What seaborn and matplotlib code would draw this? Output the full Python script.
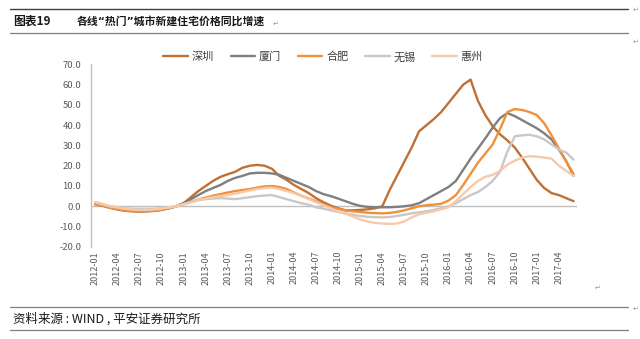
import numpy as np
import pandas as pd
import matplotlib
matplotlib.use("Agg")
import matplotlib.pyplot as plt
import seaborn as sns
from matplotlib.lines import Line2D

# ---------------- data ----------------
months = pd.period_range("2012-01", "2017-06", freq="M").strftime("%Y-%m").tolist()
tick_labels = months[::3][:22]

shenzhen = [1.0, 0.2, -0.8, -1.6, -2.2, -2.5, -2.6, -2.5, -2.3, -1.8, -1.0, 0.0,
            1.5, 4.5, 7.5, 10.0, 12.5, 14.5, 15.8, 17.0, 19.0, 20.0, 20.4, 20.0,
            18.5, 15.0, 13.0, 10.5, 8.5, 6.5, 4.0, 2.0, 0.3, -1.0, -2.0, -2.0,
            -1.8, -1.5, -1.0, 0.0, 8.0, 15.0, 22.0, 29.0, 37.0, 40.0, 43.0, 46.5,
            51.0, 55.5, 60.0, 62.5, 52.0, 45.0, 39.5, 35.5, 32.5, 29.0, 24.0, 18.5,
            13.0, 9.0, 6.5, 5.5, 4.0, 2.5]
xiamen = [1.5, 0.5, -0.5, -1.2, -1.8, -2.2, -2.4, -2.4, -2.2, -1.7, -1.0, 0.0,
          1.5, 3.5, 5.5, 7.5, 9.0, 10.5, 12.5, 14.0, 15.0, 16.2, 16.5, 16.5,
          16.2, 15.5, 14.0, 12.5, 11.0, 9.5, 7.5, 6.0, 5.0, 3.8, 2.5, 1.2,
          0.2, -0.3, -0.5, -0.5, -0.5, -0.3, 0.0, 0.5, 1.5, 3.5, 5.5, 7.5,
          9.5, 12.5, 18.0, 23.5, 28.5, 33.5, 38.8, 43.5, 46.0, 44.5, 42.5, 40.5,
          38.5, 36.0, 33.0, 28.0, 22.3, 15.0]
hefei = [1.0, 0.3, -0.6, -1.4, -2.0, -2.4, -2.5, -2.4, -2.2, -1.7, -1.0, 0.0,
         1.0, 2.2, 3.3, 4.3, 5.2, 6.0, 6.8, 7.5, 8.0, 8.5, 9.2, 9.8,
         10.0, 9.5, 8.5, 6.8, 5.2, 3.8, 2.5, 1.0, -0.5, -1.3, -2.0, -2.5,
         -2.8, -3.2, -3.4, -3.5, -3.3, -2.8, -2.0, -1.0, 0.0, 0.5, 0.8, 1.2,
         2.8, 5.5, 10.5, 16.0, 21.5, 26.0, 30.5, 38.0, 46.5, 48.0, 47.5, 46.5,
         45.0, 41.0, 35.0, 28.5, 22.0, 16.0]
wuxi = [2.0, 1.0, 0.0, -0.5, -1.0, -1.2, -1.3, -1.3, -1.2, -1.0, -0.6, 0.0,
        1.0, 2.0, 3.0, 3.5, 3.8, 4.0, 3.8, 3.5, 4.0, 4.5, 5.0, 5.3,
        5.5, 4.5, 3.5, 2.5, 1.5, 0.8, -0.5, -1.2, -2.0, -2.8, -3.5, -4.2,
        -4.8, -5.2, -5.4, -5.5, -5.3, -4.8, -4.2, -3.5, -3.0, -2.5, -1.8, -1.0,
        0.0, 1.5, 3.5, 5.5, 7.0, 9.5, 12.5, 17.0, 27.0, 34.5, 35.0, 35.3,
        34.5, 33.0, 30.5, 28.0, 26.5, 23.0]
huizhou = [2.0, 1.0, 0.0, -0.6, -1.2, -1.6, -1.8, -1.8, -1.6, -1.2, -0.6, 0.0,
           1.0, 2.0, 3.0, 3.8, 4.5, 5.0, 5.5, 6.2, 7.0, 7.8, 8.5, 9.0,
           9.2, 8.5, 7.5, 6.5, 5.0, 3.5, 2.0, 0.5, -1.0, -2.5, -3.8, -5.0,
           -6.5, -7.5, -8.2, -8.5, -8.7, -8.5, -7.5, -5.5, -4.0, -3.2, -2.5, -1.5,
           -0.5, 2.5, 6.0, 9.5, 12.5, 14.5, 15.5, 17.5, 20.5, 22.5, 24.0, 24.7,
           24.5, 24.0, 23.5, 20.0, 17.5, 15.0]

cities = ["深圳", "厦门", "合肥", "无锡", "惠州"]
series = [shenzhen, xiamen, hefei, wuxi, huizhou]
colors = ["#BF7035", "#7F7F7F", "#F0913A", "#C8C8C8", "#F7C9AA"]

# ---------------- styling ----------------
sns.set_theme(style="white")
plt.rcParams["font.family"] = ["Noto Sans CJK SC", "DejaVu Sans"]
plt.rcParams["axes.unicode_minus"] = False

df = pd.concat([
    pd.DataFrame({"idx": np.arange(len(months)), "month": months, "city": c, "value": v})
    for c, v in zip(cities, series)
], ignore_index=True)

fig = plt.figure(figsize=(6.4, 3.39), dpi=100)
ax = fig.add_axes([0.142, 0.272, 0.760, 0.538])

sns.lineplot(data=df, x="idx", y="value", hue="city", hue_order=cities,
             palette=dict(zip(cities, colors)), linewidth=1.7, sort=False,
             legend=False, ax=ax)

ax.axhline(0, color="#BFBFBF", lw=1.0, zorder=0)
ax.set_xlim(-0.6, 65.5)
ax.set_ylim(-20, 70)
ax.set_yticks(np.arange(-20, 71, 10))
ax.set_yticklabels([f"{t:.1f}" for t in np.arange(-20, 71, 10)])
ax.set_xticks(np.arange(0, len(months), 3)[:22])
ax.set_xticklabels(tick_labels, rotation=90)
ax.set_xlabel("")
ax.set_ylabel("")
ax.tick_params(axis="y", length=0, pad=7, labelsize=6.8, labelcolor="#595959")
ax.tick_params(axis="x", length=0, pad=3, labelsize=6.5, labelcolor="#595959")
for s in ["top", "right", "bottom"]:
    ax.spines[s].set_visible(False)
ax.spines["left"].set_color("#BFBFBF")
ax.spines["left"].set_linewidth(1.0)

handles = [Line2D([0], [0], color=c, lw=1.7) for c in colors]
fig.legend(handles, cities, loc="center", bbox_to_anchor=(0.505, 0.832), ncol=5,
           frameon=False, fontsize=8, handlelength=2.2, handletextpad=0.35,
           columnspacing=1.5, labelcolor="#404040")

# ---------------- header / footer ----------------
fig.add_artist(Line2D([10/640, 628/640], [1-9/339, 1-9/339], color="#404040", lw=1.0))
fig.add_artist(Line2D([10/640, 628/640], [1-33/339, 1-33/339], color="#7F7F7F", lw=0.9))
fig.text(13/640, 1-21/339, "图表19", fontsize=8.5, fontweight="bold", va="center", ha="left",
         color="#1a1a1a")
fig.text(77/640, 1-21/339, "各线“热门”城市新建住宅价格同比增速", fontsize=7.8, fontweight="bold",
         va="center", ha="left", color="#1a1a1a", family=["DejaVu Sans", "Noto Sans CJK SC"])
fig.text(273/640, 1-24/339, "↵", fontsize=5, color="#999999", va="center", family=["DejaVu Sans"])
fig.text(633/640, 1-10/339, "↵", fontsize=5, color="#999999", va="center", family=["DejaVu Sans"])
fig.text(633/640, 1-42/339, "↵", fontsize=5, color="#999999", va="center", family=["DejaVu Sans"])
fig.text(595/640, 1-288/339, "↵", fontsize=5, color="#999999", va="center", family=["DejaVu Sans"])

fig.add_artist(Line2D([10/640, 628/640], [1-307/339, 1-307/339], color="#7F7F7F", lw=0.9))
fig.add_artist(Line2D([10/640, 628/640], [1-330/339, 1-330/339], color="#7F7F7F", lw=0.9))
fig.text(13/640, 1-319/339, "资料来源 : WIND , 平安证券研究所", fontsize=9, va="center", ha="left",
         color="#1a1a1a")
fig.text(633/640, 1-309/339, "↵", fontsize=5, color="#999999", va="center", family=["DejaVu Sans"])

fig.savefig("out.png", dpi=100)
